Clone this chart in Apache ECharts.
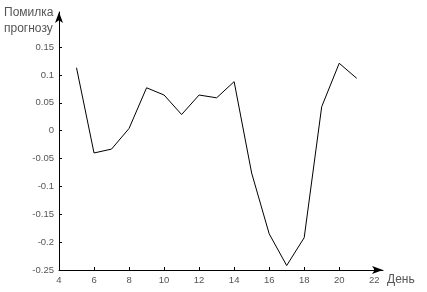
<!DOCTYPE html>
<html><head><meta charset="utf-8">
<script src="https://cdn.jsdelivr.net/npm/echarts@6/dist/echarts.min.js"></script>
<style>html,body{margin:0;padding:0;background:#fff}#c{width:427px;height:292px}</style>
</head><body><div id="c"></div>
<script>
const days = [5,6,7,8,9,10,11,12,13,14,15,16,17,18,19,20,21];
const errors = [0.113,-0.040,-0.033,0.004,0.077,0.064,0.029,0.064,0.059,0.088,-0.076,-0.185,-0.242,-0.192,0.043,0.121,0.094];
const xTicks = [4,6,8,10,12,14,16,18,20,22];
const yTicks = [-0.25,-0.2,-0.15,-0.1,-0.05,0,0.05,0.1,0.15];
const yTitle = 'Помилка\nпрогнозу';
const xTitle = 'День';

const chart = echarts.init(document.getElementById('c'));
const font = 'Liberation Sans, Arial, sans-serif';
chart.setOption({
  animation: false,
  grid: {left: 59, right: 44, top: 12, bottom: 22, containLabel: false},
  xAxis: {
    type: 'value', min: 4, max: 22.5,
    axisLine: {show: true, onZero: false, lineStyle: {color: '#000', width: 1}, symbol: ['none','arrow'], symbolSize: [6, 11]},
    axisTick: {show: true, inside: true, length: 3, customValues: xTicks, lineStyle: {color: '#000'}},
    axisLabel: {customValues: xTicks, color: '#555', fontSize: 9.5, fontFamily: font, margin: 5},
    splitLine: {show: false}
  },
  yAxis: {
    type: 'value', min: -0.25, max: 0.213,
    axisLine: {show: true, onZero: false, lineStyle: {color: '#000', width: 1}, symbol: ['none','arrow'], symbolSize: [6, 11]},
    axisTick: {show: true, inside: true, length: 3, customValues: yTicks, lineStyle: {color: '#000'}},
    axisLabel: {customValues: yTicks, color: '#555', fontSize: 9.5, fontFamily: font, margin: 5},
    splitLine: {show: false}
  },
  graphic: [
    {type: 'text', left: 4, top: 5, style: {text: yTitle, fill: '#555', font: '12px ' + font, lineHeight: 16}},
    {type: 'text', left: 387, top: 274, style: {text: xTitle, fill: '#555', font: '12px ' + font}}
  ],
  series: [{
    type: 'line', data: days.map((d,i)=>[d, errors[i]]),
    showSymbol: false, lineStyle: {color: '#000', width: 1}
  }]
});
</script></body></html>
